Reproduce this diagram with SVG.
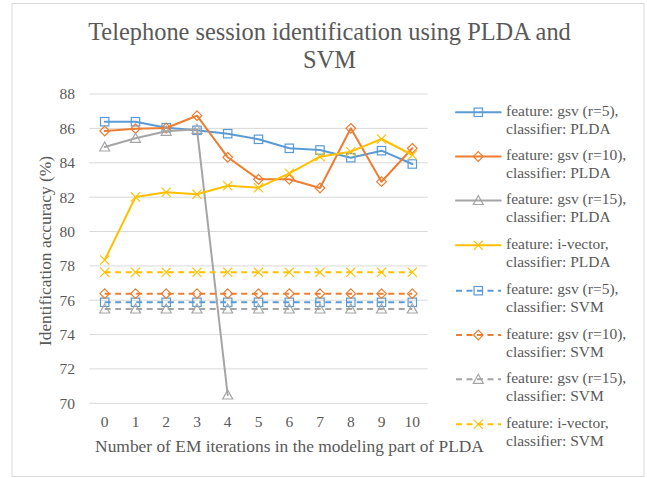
<svg xmlns="http://www.w3.org/2000/svg" xmlns:xlink="http://www.w3.org/1999/xlink" width="647" height="478" viewBox="0 0 647 478">
  <style>
    text { font-family: "Liberation Serif", "Times New Roman", serif; fill: #595959; }
    .title { font-size: 24.4px; text-anchor: middle; }
    .axt { font-size: 17.4px; text-anchor: middle; }
    .tick { font-size: 15.5px; }
    .ytick { text-anchor: end; }
    .xtick { text-anchor: middle; }
    .leg { font-size: 15.5px; }
    .grid { stroke: #D9D9D9; stroke-width: 1; fill: none; }
    .ln { fill: none; stroke-width: 2; stroke-linejoin: round; stroke-linecap: round; }
    .dash { stroke-dasharray: 6 4.5; stroke-linecap: butt; }
    .mk { fill: none; stroke-width: 1.2; }
    .blue { stroke: #5B9BD5; }
    .orange { stroke: #ED7D31; }
    .grey { stroke: #A5A5A5; }
    .yellow { stroke: #FFC000; }
  </style>
  <defs>
    <rect id="sq" x="-4.2" y="-4.2" width="8.4" height="8.4"/>
    <polygon id="dm" points="0,-4.8 4.8,0 0,4.8 -4.8,0"/>
    <polygon id="tr" points="0,-5 5,4 -5,4"/>
    <path id="xx" d="M-4.6,-4.6 L4.6,4.6 M-4.6,4.6 L4.6,-4.6"/>
  </defs>

  <!-- chart area -->
  <rect x="12" y="3.5" width="632" height="473" fill="#FFFFFF" stroke="#D9D9D9" stroke-width="1"/>

  <!-- title -->
  <g id="title">
    <text class="title" x="329.5" y="39.5">Telephone session identification using PLDA and</text>
    <text class="title" x="329.5" y="67.5">SVM</text>
  </g>

  <!-- horizontal gridlines -->
  <g id="gridlines">
    <line class="grid" x1="89.3" y1="403.3" x2="427.7" y2="403.3"/>
    <line class="grid" x1="89.3" y1="368.9" x2="427.7" y2="368.9"/>
    <line class="grid" x1="89.3" y1="334.6" x2="427.7" y2="334.6"/>
    <line class="grid" x1="89.3" y1="300.2" x2="427.7" y2="300.2"/>
    <line class="grid" x1="89.3" y1="265.9" x2="427.7" y2="265.9"/>
    <line class="grid" x1="89.3" y1="231.5" x2="427.7" y2="231.5"/>
    <line class="grid" x1="89.3" y1="197.2" x2="427.7" y2="197.2"/>
    <line class="grid" x1="89.3" y1="162.8" x2="427.7" y2="162.8"/>
    <line class="grid" x1="89.3" y1="128.4" x2="427.7" y2="128.4"/>
    <line class="grid" x1="89.3" y1="94.0" x2="427.7" y2="94.0"/>
  </g>

  <!-- value axis -->
  <g id="y-axis">
    <text class="tick ytick" x="75" y="408.6">70</text>
    <text class="tick ytick" x="75" y="374.2">72</text>
    <text class="tick ytick" x="75" y="339.9">74</text>
    <text class="tick ytick" x="75" y="305.5">76</text>
    <text class="tick ytick" x="75" y="271.2">78</text>
    <text class="tick ytick" x="75" y="236.8">80</text>
    <text class="tick ytick" x="75" y="202.5">82</text>
    <text class="tick ytick" x="75" y="168.1">84</text>
    <text class="tick ytick" x="75" y="133.7">86</text>
    <text class="tick ytick" x="75" y="99.3">88</text>
    <text class="axt" transform="translate(51,251) rotate(-90)">Identification accuracy (%)</text>
  </g>

  <!-- category axis -->
  <g id="x-axis">
    <text class="tick xtick" x="104.7" y="427">0</text>
    <text class="tick xtick" x="135.5" y="427">1</text>
    <text class="tick xtick" x="166.2" y="427">2</text>
    <text class="tick xtick" x="197.0" y="427">3</text>
    <text class="tick xtick" x="227.7" y="427">4</text>
    <text class="tick xtick" x="258.5" y="427">5</text>
    <text class="tick xtick" x="289.3" y="427">6</text>
    <text class="tick xtick" x="320.0" y="427">7</text>
    <text class="tick xtick" x="350.8" y="427">8</text>
    <text class="tick xtick" x="381.5" y="427">9</text>
    <text class="tick xtick" x="412.3" y="427">10</text>
    <text class="axt" x="289.5" y="451.5">Number of EM iterations in the modeling part of PLDA</text>
  </g>

  <!-- data series -->
  <g id="connectors">
    <g id="s-gsv5-plda">
      <polyline class="ln blue" points="104.7,121.7 135.5,121.7 166.2,127.7 197.0,130.3 227.7,133.7 258.5,139.3 289.3,148.3 320.0,150.0 350.8,157.7 381.5,150.7 412.3,164.0"/>
      <g class="mk blue">
        <use href="#sq" x="104.7" y="121.7"/><use href="#sq" x="135.5" y="121.7"/><use href="#sq" x="166.2" y="127.7"/>
        <use href="#sq" x="197.0" y="130.3"/><use href="#sq" x="227.7" y="133.7"/><use href="#sq" x="258.5" y="139.3"/>
        <use href="#sq" x="289.3" y="148.3"/><use href="#sq" x="320.0" y="150.0"/><use href="#sq" x="350.8" y="157.7"/>
        <use href="#sq" x="381.5" y="150.7"/><use href="#sq" x="412.3" y="164.0"/>
      </g>
    </g>
    <g id="s-gsv10-plda">
      <polyline class="ln orange" points="104.7,131.0 135.5,128.7 166.2,128.0 197.0,115.7 227.7,157.3 258.5,179.3 289.3,179.3 320.0,188.0 350.8,128.3 381.5,181.7 412.3,148.3"/>
      <g class="mk orange">
        <use href="#dm" x="104.7" y="131.0"/><use href="#dm" x="135.5" y="128.7"/><use href="#dm" x="166.2" y="128.0"/>
        <use href="#dm" x="197.0" y="115.7"/><use href="#dm" x="227.7" y="157.3"/><use href="#dm" x="258.5" y="179.3"/>
        <use href="#dm" x="289.3" y="179.3"/><use href="#dm" x="320.0" y="188.0"/><use href="#dm" x="350.8" y="128.3"/>
        <use href="#dm" x="381.5" y="181.7"/><use href="#dm" x="412.3" y="148.3"/>
      </g>
    </g>
    <g id="s-gsv15-plda">
      <polyline class="ln grey" points="104.7,147.0 135.5,138.3 166.2,131.3 197.0,129.3 227.7,395.0"/>
      <g class="mk grey">
        <use href="#tr" x="104.7" y="147.0"/><use href="#tr" x="135.5" y="138.3"/><use href="#tr" x="166.2" y="131.3"/>
        <use href="#tr" x="197.0" y="129.3"/><use href="#tr" x="227.7" y="395.0"/>
      </g>
    </g>
    <g id="s-ivec-plda">
      <polyline class="ln yellow" points="104.7,260.0 135.5,197.0 166.2,192.3 197.0,194.3 227.7,185.7 258.5,187.7 289.3,173.3 320.0,156.7 350.8,151.7 381.5,139.0 412.3,155.0"/>
      <g class="mk yellow">
        <use href="#xx" x="104.7" y="260.0"/><use href="#xx" x="135.5" y="197.0"/><use href="#xx" x="166.2" y="192.3"/>
        <use href="#xx" x="197.0" y="194.3"/><use href="#xx" x="227.7" y="185.7"/><use href="#xx" x="258.5" y="187.7"/>
        <use href="#xx" x="289.3" y="173.3"/><use href="#xx" x="320.0" y="156.7"/><use href="#xx" x="350.8" y="151.7"/>
        <use href="#xx" x="381.5" y="139.0"/><use href="#xx" x="412.3" y="155.0"/>
      </g>
    </g>
    <g id="s-gsv5-svm">
      <line class="ln dash blue" x1="104.7" y1="302.3" x2="412.3" y2="302.3"/>
      <g class="mk blue">
        <use href="#sq" x="104.7" y="302.3"/><use href="#sq" x="135.5" y="302.3"/><use href="#sq" x="166.2" y="302.3"/>
        <use href="#sq" x="197.0" y="302.3"/><use href="#sq" x="227.7" y="302.3"/><use href="#sq" x="258.5" y="302.3"/>
        <use href="#sq" x="289.3" y="302.3"/><use href="#sq" x="320.0" y="302.3"/><use href="#sq" x="350.8" y="302.3"/>
        <use href="#sq" x="381.5" y="302.3"/><use href="#sq" x="412.3" y="302.3"/>
      </g>
    </g>
    <g id="s-gsv10-svm">
      <line class="ln dash orange" x1="104.7" y1="293.7" x2="412.3" y2="293.7"/>
      <g class="mk orange">
        <use href="#dm" x="104.7" y="293.7"/><use href="#dm" x="135.5" y="293.7"/><use href="#dm" x="166.2" y="293.7"/>
        <use href="#dm" x="197.0" y="293.7"/><use href="#dm" x="227.7" y="293.7"/><use href="#dm" x="258.5" y="293.7"/>
        <use href="#dm" x="289.3" y="293.7"/><use href="#dm" x="320.0" y="293.7"/><use href="#dm" x="350.8" y="293.7"/>
        <use href="#dm" x="381.5" y="293.7"/><use href="#dm" x="412.3" y="293.7"/>
      </g>
    </g>
    <g id="s-gsv15-svm">
      <line class="ln dash grey" x1="104.7" y1="309.0" x2="412.3" y2="309.0"/>
      <g class="mk grey">
        <use href="#tr" x="104.7" y="309.0"/><use href="#tr" x="135.5" y="309.0"/><use href="#tr" x="166.2" y="309.0"/>
        <use href="#tr" x="197.0" y="309.0"/><use href="#tr" x="227.7" y="309.0"/><use href="#tr" x="258.5" y="309.0"/>
        <use href="#tr" x="289.3" y="309.0"/><use href="#tr" x="320.0" y="309.0"/><use href="#tr" x="350.8" y="309.0"/>
        <use href="#tr" x="381.5" y="309.0"/><use href="#tr" x="412.3" y="309.0"/>
      </g>
    </g>
    <g id="s-ivec-svm">
      <line class="ln dash yellow" x1="104.7" y1="272.3" x2="412.3" y2="272.3"/>
      <g class="mk yellow">
        <use href="#xx" x="104.7" y="272.3"/><use href="#xx" x="135.5" y="272.3"/><use href="#xx" x="166.2" y="272.3"/>
        <use href="#xx" x="197.0" y="272.3"/><use href="#xx" x="227.7" y="272.3"/><use href="#xx" x="258.5" y="272.3"/>
        <use href="#xx" x="289.3" y="272.3"/><use href="#xx" x="320.0" y="272.3"/><use href="#xx" x="350.8" y="272.3"/>
        <use href="#xx" x="381.5" y="272.3"/><use href="#xx" x="412.3" y="272.3"/>
      </g>
    </g>
  </g>

  <!-- legend -->
  <g id="legend">
    <g id="leg-gsv5-plda">
      <line class="ln blue" x1="456" y1="112.3" x2="500.7" y2="112.3" stroke-linecap="butt"/>
      <use class="mk blue" href="#sq" x="478.3" y="112.3"/>
      <text class="leg" x="506" y="116">feature: gsv (r=5),</text>
      <text class="leg" x="506" y="134">classifier: PLDA</text>
    </g>
    <g id="leg-gsv10-plda">
      <line class="ln orange" x1="456" y1="156.5" x2="500.7" y2="156.5" stroke-linecap="butt"/>
      <use class="mk orange" href="#dm" x="478.3" y="156.5"/>
      <text class="leg" x="506" y="160.2">feature: gsv (r=10),</text>
      <text class="leg" x="506" y="178.2">classifier: PLDA</text>
    </g>
    <g id="leg-gsv15-plda">
      <line class="ln grey" x1="456" y1="200.5" x2="500.7" y2="200.5" stroke-linecap="butt"/>
      <use class="mk grey" href="#tr" x="478.3" y="200.5"/>
      <text class="leg" x="506" y="204.2">feature: gsv (r=15),</text>
      <text class="leg" x="506" y="222.2">classifier: PLDA</text>
    </g>
    <g id="leg-ivec-plda">
      <line class="ln yellow" x1="456" y1="245.2" x2="500.7" y2="245.2" stroke-linecap="butt"/>
      <use class="mk yellow" href="#xx" x="478.3" y="245.2"/>
      <text class="leg" x="506" y="248.9">feature: i-vector,</text>
      <text class="leg" x="506" y="266.9">classifier: PLDA</text>
    </g>
    <g id="leg-gsv5-svm">
      <line class="ln dash blue" x1="456" y1="290.7" x2="501" y2="290.7"/>
      <use class="mk blue" href="#sq" x="478.3" y="290.7"/>
      <text class="leg" x="506" y="294.4">feature: gsv (r=5),</text>
      <text class="leg" x="506" y="312.4">classifier: SVM</text>
    </g>
    <g id="leg-gsv10-svm">
      <line class="ln dash orange" x1="456" y1="335" x2="501" y2="335"/>
      <use class="mk orange" href="#dm" x="478.3" y="335"/>
      <text class="leg" x="506" y="338.7">feature: gsv (r=10),</text>
      <text class="leg" x="506" y="356.7">classifier: SVM</text>
    </g>
    <g id="leg-gsv15-svm">
      <line class="ln dash grey" x1="456" y1="379.3" x2="501" y2="379.3"/>
      <use class="mk grey" href="#tr" x="478.3" y="379.3"/>
      <text class="leg" x="506" y="383">feature: gsv (r=15),</text>
      <text class="leg" x="506" y="401">classifier: SVM</text>
    </g>
    <g id="leg-ivec-svm">
      <line class="ln dash yellow" x1="456" y1="424.3" x2="501" y2="424.3"/>
      <use class="mk yellow" href="#xx" x="478.3" y="424.3"/>
      <text class="leg" x="506" y="428">feature: i-vector,</text>
      <text class="leg" x="506" y="446">classifier: SVM</text>
    </g>
  </g>
</svg>
